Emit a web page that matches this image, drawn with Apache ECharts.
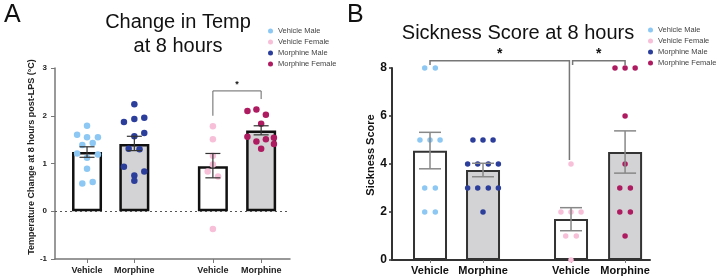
<!DOCTYPE html>
<html>
<head>
<meta charset="utf-8">
<script src="https://cdn.jsdelivr.net/npm/echarts@6/dist/echarts.min.js"></script>
<style>html,body{margin:0;padding:0;background:#fff}#c{width:720px;height:278px}</style>
</head>
<body>
<div id="c"></div>
<script>
// ---------- data ----------
const groupNames = ['Vehicle Male', 'Vehicle Female', 'Morphine Male', 'Morphine Female'];
const tickLabels = ['Vehicle', 'Morphine', 'Vehicle', 'Morphine'];
const groupPos = [1, 2, 3.66, 4.68];   // order: Vehicle M, Morphine M, Vehicle F, Morphine F

// Panel A: Temperature change at 8 h (°C)
const tempMean = [1.24, 1.41, 0.94, 1.69];
const tempLow  = [1.13, 1.27, 0.70, 1.60];
const tempHigh = [1.35, 1.57, 1.21, 1.79];
const tempVehicleMale     = [1.79, 1.60, 1.55, 1.55, 1.39, 1.43, 1.21, 1.12, 1.19, 0.89, 0.58, 0.61];
const tempVehicleMaleJit  = [0, -0.21, 0, 0.23, -0.1, 0.12, -0.21, 0, 0.23, 0, -0.1, 0.12];
const tempMorphineMale    = [2.24, 1.87, 1.93, 1.96, 1.57, 1.64, 1.31, 1.30, 0.93, 0.83, 0.75, 0.64];
const tempMorphineMaleJit = [0, -0.22, 0, 0.21, 0, 0.21, -0.12, 0.11, -0.22, 0.21, 0, 0];
const tempVehicleFemale   = [1.78, 1.51, 1.16, 0.98, 0.83, 0.73, -0.37];
const tempVehicleFemaleJit= [0, 0, 0, 0, -0.11, 0.11, 0];
const tempMorphineFemale  = [2.10, 2.13, 2.02, 1.83, 1.56, 1.46, 1.51, 1.54, 1.41, 1.31];
const tempMorphineFemaleJit=[-0.29, -0.1, 0.1, 0, -0.29, -0.1, 0.1, 0.27, 0.27, 0];
const tempBracket = [[3.66, 4.68, 2.52, 2.0, 2.35]];

// Panel B: Sickness score at 8 h
const sickMean = [4.55, 3.75, 1.71, 4.5];
const sickLow  = [3.80, 3.47, 1.22, 3.62];
const sickHigh = [5.32, 4.03, 2.18, 5.38];
const sickVehicleMale     = [8, 8, 5, 5, 5, 3, 3, 2, 2];
const sickVehicleMaleJit  = [-0.1, 0.1, -0.19, 0, 0.19, -0.1, 0.1, -0.1, 0.1];
const sickMorphineMale    = [5, 5, 5, 4, 4, 4, 4, 3, 3, 3, 3, 2];
const sickMorphineMaleJit = [-0.19, 0, 0.19, -0.29, -0.1, 0.1, 0.29, -0.29, -0.1, 0.1, 0.29, 0];
const sickVehicleFemale   = [4, 2, 2, 2, 1, 1, 0];
const sickVehicleFemaleJit= [0, -0.19, 0, 0.19, -0.1, 0.1, 0];
const sickMorphineFemale  = [8, 8, 8, 6, 4, 3, 3, 2, 2, 1];
const sickMorphineFemaleJit=[-0.19, 0, 0.19, 0, 0, -0.1, 0.1, -0.1, 0.1, 0];
const sickBrackets = [[1, 3.63, 8.3, 8.13, 4.17], [3.69, 4.68, 8.3, 8.13, 8.13]];

// ---------- styling ----------
const FONT = 'Liberation Sans, Arial, Helvetica, sans-serif';
const colors = { 'Vehicle Male': '#8cc8f3', 'Vehicle Female': '#f7c0d8', 'Morphine Male': '#2c3e9c', 'Morphine Female': '#ae1b60' };
const barFill = ['#ffffff', '#d3d3d5', '#ffffff', '#d3d3d5'];

function pts(vals, jit, gi) { return vals.map((v, i) => [groupPos[gi] + jit[i], v]); }
function labelFor(v) {
  let best = 0;
  groupPos.forEach((p, i) => { if (Math.abs(p - v) < Math.abs(groupPos[best] - v)) best = i; });
  return tickLabels[best];
}

function errSeries(idx, low, high, color, lw, capHalf) {
  return {
    type: 'custom', xAxisIndex: idx, yAxisIndex: idx, z: 5, silent: true,
    encode: { x: 0, y: [1, 2] },
    data: groupPos.map((p, i) => [p, low[i], high[i]]),
    renderItem: function (params, api) {
      const a = api.coord([api.value(0), api.value(1)]);
      const b = api.coord([api.value(0), api.value(2)]);
      const st = { stroke: color, lineWidth: lw };
      return { type: 'group', children: [
        { type: 'line', shape: { x1: a[0], y1: a[1], x2: b[0], y2: b[1] }, style: st },
        { type: 'line', shape: { x1: a[0] - capHalf, y1: a[1], x2: a[0] + capHalf, y2: a[1] }, style: st },
        { type: 'line', shape: { x1: b[0] - capHalf, y1: b[1], x2: b[0] + capHalf, y2: b[1] }, style: st }
      ]};
    }
  };
}

function bracketSeries(idx, data, color, lw, starSize, starGap) {
  return {
    type: 'custom', xAxisIndex: idx, yAxisIndex: idx, z: 6, silent: true, clip: false,
    encode: { x: [0, 1], y: [2, 3, 4] },
    data: data,
    renderItem: function (params, api) {
      const x1 = api.value(0), x2 = api.value(1), top = api.value(2), l = api.value(3), r = api.value(4);
      const p1 = api.coord([x1, l]), p2 = api.coord([x1, top]), p3 = api.coord([x2, top]), p4 = api.coord([x2, r]);
      return { type: 'group', children: [
        { type: 'polyline', shape: { points: [p1, p2, p3, p4] }, style: { stroke: color, lineWidth: lw, fill: null } },
        { type: 'text', x: (p2[0] + p3[0]) / 2, y: p2[1] - starGap,
          style: { text: '*', font: 'bold ' + starSize + 'px ' + FONT, fill: '#111', align: 'center', verticalAlign: 'middle', textAlign: 'center', textVerticalAlign: 'middle' } }
      ]};
    }
  };
}

function scatter(idx, name, data, size) {
  return { type: 'scatter', name: name, xAxisIndex: idx, yAxisIndex: idx, z: 4, symbolSize: size,
    itemStyle: { color: colors[name], opacity: 1 }, data: data };
}

const option = {
  animation: false,
  textStyle: { fontFamily: FONT },
  graphic: [
    { type: 'text', x: 4, y: 15, style: { text: 'A', font: '25px ' + FONT, fill: '#111', textVerticalAlign: 'middle', verticalAlign: 'middle' } },
    { type: 'text', x: 347, y: 15, style: { text: 'B', font: '25px ' + FONT, fill: '#111', textVerticalAlign: 'middle', verticalAlign: 'middle' } },
    { type: 'text', x: 178, y: 22, style: { text: 'Change in Temp', font: '20px ' + FONT, fill: '#111', align: 'center', textAlign: 'center', verticalAlign: 'middle', textVerticalAlign: 'middle' } },
    { type: 'text', x: 178, y: 46, style: { text: 'at 8 hours', font: '20px ' + FONT, fill: '#111', align: 'center', textAlign: 'center', verticalAlign: 'middle', textVerticalAlign: 'middle' } },
    { type: 'text', x: 518, y: 33, style: { text: 'Sickness Score at 8 hours', font: '20px ' + FONT, fill: '#111', align: 'center', textAlign: 'center', verticalAlign: 'middle', textVerticalAlign: 'middle' } }
  ],
  legend: [
    { data: groupNames, orient: 'vertical', left: 263, top: 21, itemWidth: 5, itemHeight: 5, itemGap: 1, icon: 'circle',
      textStyle: { fontSize: 7.5, color: '#444', lineHeight: 10, fontFamily: FONT }, selectedMode: false },
    { data: groupNames, orient: 'vertical', left: 643, top: 20, itemWidth: 5, itemHeight: 5, itemGap: 1, icon: 'circle',
      textStyle: { fontSize: 7.5, color: '#444', lineHeight: 10, fontFamily: FONT }, selectedMode: false }
  ],
  grid: [
    { left: 55, top: 68, width: 235, height: 191 },
    { left: 392, top: 68, width: 258, height: 192 }
  ],
  xAxis: [
    { gridIndex: 0, type: 'value', min: 0.323, max: 5.29, splitLine: { show: false },
      axisLine: { show: true, onZero: false, lineStyle: { color: '#777', width: 1.5 } },
      axisTick: { show: true, customValues: groupPos, length: 4, lineStyle: { color: '#777' } },
      axisLabel: { customValues: groupPos, formatter: labelFor, fontSize: 9, fontWeight: 'bold', color: '#222', margin: 7 } },
    { gridIndex: 1, type: 'value', min: 0.283, max: 5.15, splitLine: { show: false },
      axisLine: { show: true, onZero: false, lineStyle: { color: '#333', width: 2 } },
      axisTick: { show: true, customValues: groupPos, length: 3, lineStyle: { color: '#777' } },
      axisLabel: { customValues: groupPos, formatter: labelFor, fontSize: 11, fontWeight: 'bold', color: '#111', margin: 5 } }
  ],
  yAxis: [
    { gridIndex: 0, type: 'value', min: -1, max: 3, interval: 1, splitLine: { show: false },
      name: 'Temperature Change at 8 hours post-LPS (°C)', nameLocation: 'middle', nameGap: 16,
      nameTextStyle: { fontSize: 9, fontWeight: 'bold', color: '#222', padding: [0, 0, 0, 13] },
      axisLine: { show: true, onZero: false, lineStyle: { color: '#777', width: 1.5 } },
      axisTick: { show: true, length: 4, lineStyle: { color: '#777' } },
      axisLabel: { fontSize: 8, fontWeight: 'bold', color: '#222', margin: 8 } },
    { gridIndex: 1, type: 'value', min: 0, max: 8, interval: 2, splitLine: { show: false },
      name: 'Sickness Score', nameLocation: 'middle', nameGap: 11,
      nameTextStyle: { fontSize: 11, fontWeight: 'bold', color: '#111', padding: [0, 0, 0, 18] },
      axisLine: { show: true, onZero: false, lineStyle: { color: '#333', width: 2 } },
      axisTick: { show: true, length: 3, lineStyle: { color: '#333', width: 1.5 } },
      axisLabel: { fontSize: 12, fontWeight: 'bold', color: '#111', margin: 5 } }
  ],
  series: [
    { type: 'bar', xAxisIndex: 0, yAxisIndex: 0, barWidth: 30, z: 2, silent: true,
      data: groupPos.map((p, i) => ({ value: [p, tempMean[i]], itemStyle: { color: barFill[i], borderColor: '#111', borderWidth: 2.5 } })),
      markLine: { silent: true, symbol: 'none', label: { show: false },
        lineStyle: { type: [2, 3], color: '#555', width: 1.2 }, data: [{ yAxis: 0 }] } },
    errSeries(0, tempLow, tempHigh, '#333', 1.2, 7.5),
    scatter(0, 'Vehicle Male', pts(tempVehicleMale, tempVehicleMaleJit, 0), 6.5),
    scatter(0, 'Morphine Male', pts(tempMorphineMale, tempMorphineMaleJit, 1), 6.5),
    scatter(0, 'Vehicle Female', pts(tempVehicleFemale, tempVehicleFemaleJit, 2), 6.5),
    scatter(0, 'Morphine Female', pts(tempMorphineFemale, tempMorphineFemaleJit, 3), 6.5),
    bracketSeries(0, tempBracket, '#666', 1, 9, 6),

    { type: 'bar', xAxisIndex: 1, yAxisIndex: 1, barWidth: 34, z: 2, silent: true,
      data: groupPos.map((p, i) => ({ value: [p, sickMean[i]], itemStyle: { color: barFill[i], borderColor: '#333', borderWidth: 2 } })) },
    errSeries(1, sickLow, sickHigh, '#888', 1.5, 11),
    scatter(1, 'Vehicle Male', pts(sickVehicleMale, sickVehicleMaleJit, 0), 5.5),
    scatter(1, 'Morphine Male', pts(sickMorphineMale, sickMorphineMaleJit, 1), 5.5),
    scatter(1, 'Vehicle Female', pts(sickVehicleFemale, sickVehicleFemaleJit, 2), 5.5),
    scatter(1, 'Morphine Female', pts(sickMorphineFemale, sickMorphineFemaleJit, 3), 5.5),
    bracketSeries(1, sickBrackets, '#777', 1.5, 14, 7)
  ]
};

const chart = echarts.init(document.getElementById('c'), null, { renderer: 'canvas' });
chart.setOption(option);
</script>
</body>
</html>
